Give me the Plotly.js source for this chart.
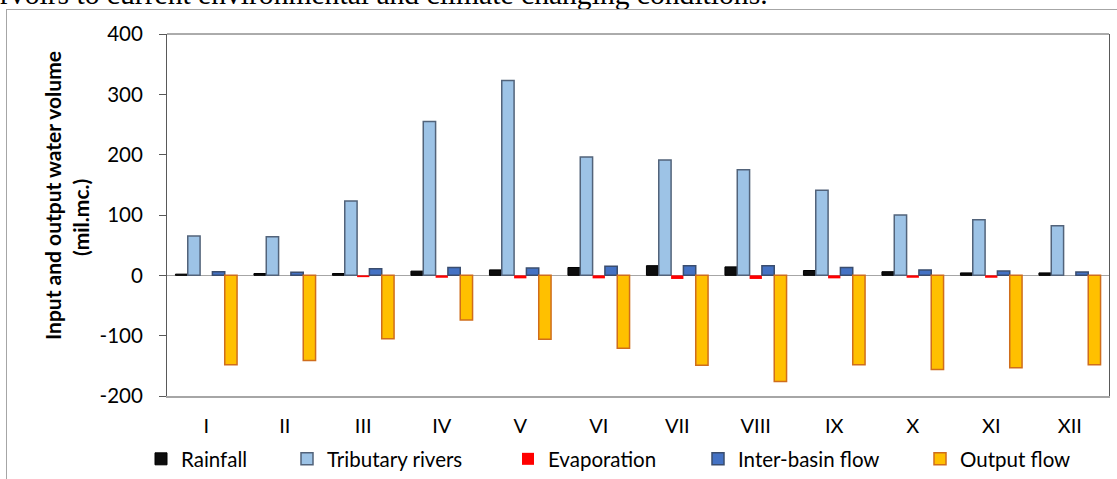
<!DOCTYPE html>
<html>
<head>
<meta charset="utf-8">
<script src="https://cdn.plot.ly/plotly-3.0.1.min.js"></script>
<style>
  html, body { margin: 0; padding: 0; width: 1117px; height: 479px; overflow: hidden; background: #fff; }
  #frame { position: absolute; left: 6px; top: 9px; width: 1300px; height: 700px; border: 1px solid #a6a6a6; }
  #bodytext { position: absolute; left: 0px; top: -20px; font-family: "Liberation Serif", "Times New Roman", serif; font-size: 29.6px; line-height: 29px; white-space: nowrap; color: #000; }
  #chart { position: absolute; left: 0; top: 0; width: 1117px; height: 479px; }
</style>
</head>
<body>
<div id="bodytext">rvoirs to current environmental and climate changing conditions.</div>
<div id="frame"></div>
<div id="chart"></div>
<script>
// ---- data ----
const months = ["I","II","III","IV","V","VI","VII","VIII","IX","X","XI","XII"];
const rainfall = [2, 3, 3, 7, 9, 13, 16, 14, 8, 6, 4, 4];
const tributaryRivers = [65, 64, 123, 255, 323, 196, 191, 175, 141, 100, 92, 82];
const evaporation = [0, 0, -3, -4, -5, -5, -6, -6, -5, -4, -4, 0];
const interBasinFlow = [6, 5, 11, 13, 12, 15, 16, 16, 13, 9, 7, 5.5];
const outputFlow = [-148, -141, -105, -74, -106, -121, -149, -176, -148, -156, -153, -148];
const seriesNames = ["Rainfall", "Tributary rivers", "Evaporation", "Inter-basin flow", "Output flow"];
const yTickVals = [-200, -100, 0, 100, 200, 300, 400];
const yTickText = ["-200", "-100", "0", "100", "200", "300", "400"];

// ---- layout geometry (pixels) ----
const W = 1117, H = 479;
const plotL = 167, plotR = 1109, plotT = 34, plotB = 396;
const pw = plotR - plotL, ph = plotB - plotT;
const px2x = p => (p - plotL) / pw;
const py2y = p => (plotB - p) / ph;
const yMin = -200, yMax = 400;

const FONT = "Lato, 'Open Sans', sans-serif";

const styles = [
  {fill: "#0d0d0d", line: "#000000", lw: 1},
  {fill: "#9dc3e6", line: "#52637a", lw: 1.5},
  {fill: "#ff0000", line: "#ff0000", lw: 0},
  {fill: "#4472c4", line: "#3a4d6e", lw: 1.5},
  {fill: "#ffc000", line: "#cf6d1c", lw: 1.5}
];
const values = [rainfall, tributaryRivers, evaporation, interBasinFlow, outputFlow];
const legendTextStart = [183, 329, 550, 740, 962];
const legendIds = ["legend", "legend2", "legend3", "legend4", "legend5"];

const traces = values.map((v, i) => ({
  type: "bar",
  name: seriesNames[i],
  x: months,
  y: v,
  marker: {color: styles[i].fill, line: {color: styles[i].line, width: styles[i].lw}},
  legend: legendIds[i],
  hoverinfo: "x+y+name"
}));

const layout = {
  width: W, height: H,
  margin: {l: plotL, r: W - plotR, t: plotT, b: H - plotB, pad: 0, autoexpand: false},
  paper_bgcolor: "rgba(0,0,0,0)",
  plot_bgcolor: "rgba(0,0,0,0)",
  barmode: "group",
  bargap: 0.215,
  bargroupgap: 0,
  font: {family: FONT, size: 20, color: "#000"},
  xaxis: {
    type: "category",
    showline: true, linecolor: "#a6a6a6", linewidth: 2,
    ticks: "", showgrid: false, zeroline: false,
    tickfont: {family: FONT, size: 20, color: "#000"},
    ticklabelstandoff: 11
  },
  xaxis2: {
    overlaying: "x", anchor: "free",
    position: (0 - yMin) / (yMax - yMin),
    range: [-0.5, months.length - 0.5],
    tickmode: "linear", tick0: 0, dtick: 1,
    ticks: "outside", ticklen: 5, tickcolor: "#a6a6a6", tickwidth: 1,
    showticklabels: false, showline: false, showgrid: false, zeroline: false
  },
  yaxis: {
    range: [yMin, yMax],
    tickmode: "array", tickvals: yTickVals, ticktext: yTickText,
    showline: true, linecolor: "#595959", linewidth: 1, mirror: true,
    ticks: "outside", ticklen: 7, tickcolor: "#595959",
    showgrid: false,
    zeroline: true, zerolinecolor: "#a6a6a6", zerolinewidth: 1.5,
    tickfont: {family: FONT, size: 20.5, color: "#000"},
    ticklabelstandoff: 12
  },
  shapes: [
    {type: "line", xref: "paper", yref: "paper", x0: 0, x1: 1, y0: 1, y1: 1, line: {color: "#595959", width: 1}}
  ],
  annotations: [
    {xref: "paper", yref: "paper", x: px2x(52), y: py2y(196), text: "<b>Input and output water volume</b>",
     textangle: -90, showarrow: false, xanchor: "center", yanchor: "middle", font: {family: FONT, size: 21, color: "#000"}},
    {xref: "paper", yref: "paper", x: px2x(80), y: py2y(218), text: "<b>(mil.mc.)</b>",
     textangle: -90, showarrow: false, xanchor: "center", yanchor: "middle", font: {family: FONT, size: 21, color: "#000"}}
  ],
  showlegend: true
};
legendIds.forEach((id, i) => {
  layout[id] = {
    orientation: "h",
    xref: "container", yref: "container",
    x: (legendTextStart[i] - 42) / W, y: 1 - 459 / H,
    xanchor: "left", yanchor: "middle",
    bgcolor: "rgba(0,0,0,0)", borderwidth: 0,
    font: {family: FONT, size: 20.5, color: "#000"}
  };
});

Plotly.newPlot("chart", traces, layout, {displayModeBar: false, staticPlot: true});
</script>
</body>
</html>
